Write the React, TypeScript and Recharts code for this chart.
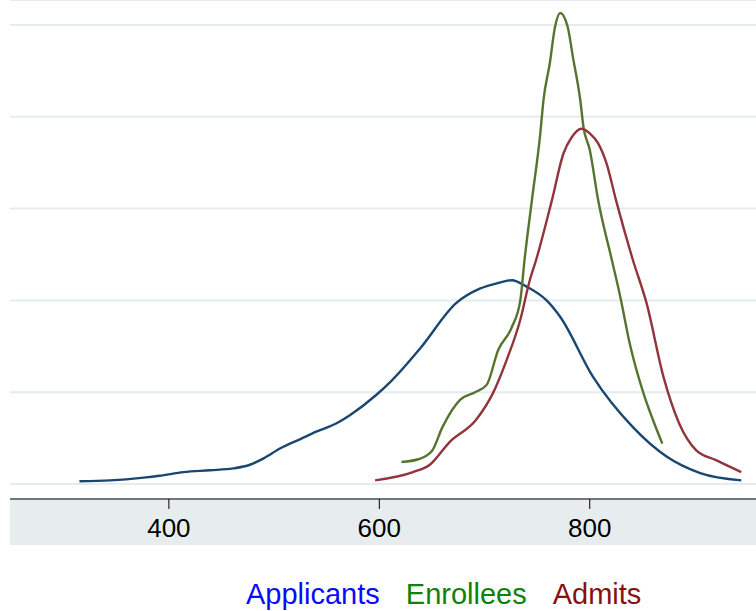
import { CartesianGrid, Legend, Line, LineChart, XAxis, YAxis } from "recharts";

// Kernel density of scores (density scaled x1000)
const applicantScores = [315, 344, 376, 391, 414, 439, 461, 477, 490, 506, 525, 540, 559, 572, 597, 612, 639, 673, 696, 713, 726, 740, 759, 772, 803, 841, 873, 905, 944];
const applicantDensity = [0.03, 0.04, 0.07, 0.09, 0.13, 0.15, 0.17, 0.21, 0.28, 0.39, 0.49, 0.57, 0.66, 0.75, 0.97, 1.13, 1.48, 1.97, 2.13, 2.19, 2.22, 2.15, 2.0, 1.82, 1.17, 0.62, 0.3, 0.12, 0.04];

const enrolleeScores = [621, 637, 650, 660, 677, 691, 702, 713, 726, 734, 738, 745, 753, 756, 762, 767, 772, 779, 784, 791, 794, 800, 808, 821, 829, 838, 851, 860, 869];
const enrolleeDensity = [0.24, 0.27, 0.36, 0.62, 0.92, 1.0, 1.08, 1.46, 1.71, 2.0, 2.44, 3.09, 3.82, 4.18, 4.58, 4.98, 5.13, 4.98, 4.65, 4.18, 3.89, 3.64, 3.09, 2.44, 2.04, 1.53, 0.99, 0.7, 0.44];

const admitScores = [596, 632, 648, 667, 692, 708, 721, 734, 743, 749, 764, 775, 783, 792, 800, 808, 816, 825, 841, 854, 870, 885, 901, 920, 944];
const admitDensity = [0.04, 0.13, 0.21, 0.46, 0.7, 0.99, 1.35, 1.79, 2.22, 2.44, 3.09, 3.6, 3.78, 3.87, 3.82, 3.71, 3.49, 3.09, 2.44, 1.97, 1.17, 0.66, 0.37, 0.26, 0.13];

const xTicks = [400, 600, 800];
const yTicks = [0, 1, 2, 3, 4, 5];

const toRows = (xs: number[], ys: number[]) => xs.map((x, i) => ({ score: x, density: ys[i] }));

const SERIES = [
  { name: "Applicants", data: toRows(applicantScores, applicantDensity), stroke: "#1a476f", label: "#0a0aff" },
  { name: "Enrollees", data: toRows(enrolleeScores, enrolleeDensity), stroke: "#55752f", label: "#0d820d" },
  { name: "Admits", data: toRows(admitScores, admitDensity), stroke: "#90353b", label: "#8a1010" },
];

const FONT = "'Liberation Sans', Arial, Helvetica, sans-serif";

function LegendRow() {
  return (
    <div
      style={{
        height: 66,
        display: "flex",
        gap: 26,
        paddingLeft: 236,
        paddingTop: 33,
        boxSizing: "border-box",
        fontFamily: FONT,
        fontSize: 29,
        lineHeight: "33px",
      }}
    >
      {SERIES.map((s) => (
        <span key={s.name} style={{ color: s.label }}>
          {s.name}
        </span>
      ))}
    </div>
  );
}

export default function App() {
  return (
    <div style={{ position: "absolute", left: 0, top: 0, width: 756, height: 611, background: "#fff" }}>
      {/* axis band behind the x axis */}
      <div style={{ position: "absolute", left: 10, top: 499, width: 746, height: 46, background: "#e7edef" }} />
      <div style={{ position: "absolute", left: 0, top: 0 }}>
        <LineChart width={756} height={611} margin={{ top: 0, right: 0, left: 10, bottom: 0 }}>
          <CartesianGrid vertical={false} stroke="#e3ecef" strokeWidth={2} />
          <XAxis
            type="number"
            dataKey="score"
            domain={[249, 958]}
            allowDataOverflow
            ticks={xTicks}
            height={46}
            tickSize={10}
            tickMargin={10}
            stroke="#000"
            tick={{ fontSize: 26, fill: "#000", fontFamily: FONT }}
          />
          <YAxis hide type="number" domain={[-0.163, 5.272]} allowDataOverflow ticks={yTicks} />
          <Legend verticalAlign="bottom" height={66} content={() => <LegendRow />} />
          {SERIES.map((s) => (
            <Line
              key={s.name}
              data={s.data}
              dataKey="density"
              name={s.name}
              type="monotone"
              stroke={s.stroke}
              strokeWidth={2.4}
              dot={false}
              isAnimationActive={false}
            />
          ))}
        </LineChart>
      </div>
    </div>
  );
}
